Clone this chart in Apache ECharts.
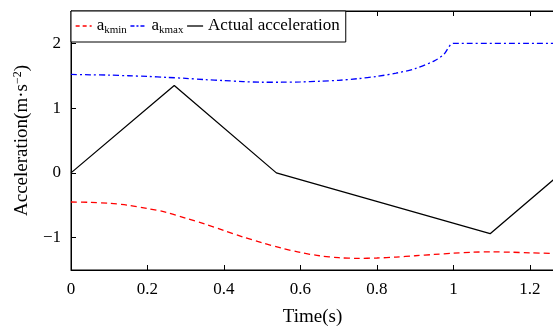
<!DOCTYPE html>
<html>
<head>
<meta charset="utf-8">
<script src="https://cdn.jsdelivr.net/npm/echarts@6/dist/echarts.min.js"></script>
<style>
  html, body { margin: 0; padding: 0; background: #fff; }
  #chart { width: 553px; height: 326px; }
</style>
</head>
<body>
<div id="chart"></div>
<script>
// time axis limits and ticks
const xMax = 1.263
const xTicks = [0, 0.2, 0.4, 0.6, 0.8, 1, 1.2]
const yTicks = [-1, 0, 1, 2]

// a_kmin (red dashed)
const kminT = [0, 0.05, 0.1, 0.15, 0.2, 0.25, 0.3, 0.35, 0.4, 0.45, 0.5, 0.55, 0.6, 0.65, 0.7, 0.75, 0.8, 0.85, 0.9, 0.95, 1.0, 1.05, 1.1, 1.15, 1.2, 1.263]
const kminV = [-0.45, -0.455, -0.47, -0.5, -0.55, -0.61, -0.7, -0.79, -0.89, -0.99, -1.08, -1.16, -1.23, -1.28, -1.31, -1.32, -1.315, -1.3, -1.28, -1.26, -1.24, -1.225, -1.22, -1.225, -1.235, -1.245]

// a_kmax (blue dash-dot)
const kmaxT = [0, 0.05, 0.1, 0.15, 0.2, 0.25, 0.3, 0.35, 0.4, 0.45, 0.5, 0.55, 0.6, 0.65, 0.7, 0.75, 0.8, 0.85, 0.9, 0.95, 0.975, 1.0, 1.263]
const kmaxV = [1.52, 1.515, 1.51, 1.5, 1.49, 1.475, 1.46, 1.44, 1.425, 1.41, 1.4, 1.4, 1.405, 1.415, 1.43, 1.455, 1.49, 1.54, 1.61, 1.73, 1.83, 2.0, 2.0]

// actual acceleration (black solid)
const actT = [0, 0.27, 0.537, 1.096, 1.263]
const actV = [0, 1.35, 0, -0.94, -0.1]

const pairs = (t, v) => t.map((x, i) => [x, v[i]])
const font = 'Liberation Serif'
const minus = v => String(v).replace('-', '\u2212')

const chart = echarts.init(document.getElementById('chart'))

chart.setOption({
  animation: false,
  textStyle: { fontFamily: font, color: '#000' },
  grid: {
    left: 71, right: -1, top: 11, bottom: 56,
    containLabel: false, outerBoundsMode: 'none',
    show: true, borderColor: '#000', borderWidth: 1, backgroundColor: 'transparent'
  },
  legend: {
    left: 71,
    top: 11,
    orient: 'horizontal',
    backgroundColor: '#fff',
    borderColor: '#000',
    borderWidth: 1,
    borderRadius: 0,
    padding: [6, 6, 6, 4],
    itemGap: 3,
    itemWidth: 16,
    itemHeight: 14,
    itemStyle: { opacity: 0 },
    data: [
      { name: 'akmin', lineStyle: { color: '#ff0000', width: 1.3, type: [4, 3] } },
      { name: 'akmax', lineStyle: { color: '#0000ff', width: 1.3, type: [4, 2, 2, 2] } },
      { name: 'Actual acceleration', lineStyle: { color: '#000', width: 1.3 } }
    ],
    formatter: name => {
      if (name === 'akmin') return '{a|a}{s|kmin}'
      if (name === 'akmax') return '{a|a}{s|kmax}'
      return '{a|' + name + '}'
    },
    textStyle: {
      fontFamily: font,
      color: '#000',
      rich: {
        a: { fontFamily: font, fontSize: 17, color: '#000', lineHeight: 20 },
        s: { fontFamily: font, fontSize: 11, color: '#000', lineHeight: 20, verticalAlign: 'bottom', padding: [8, 0, 0, 0] }
      }
    }
  },
  xAxis: [{
    type: 'value',
    min: 0,
    max: xMax,
    name: 'Time(s)',
    nameLocation: 'middle',
    nameGap: 38,
    nameTextStyle: { fontFamily: font, fontSize: 19, color: '#000' },
    axisLine: { show: true, onZero: false, lineStyle: { color: '#000', width: 1 } },
    axisTick: { show: true, inside: true, length: 5, customValues: xTicks, lineStyle: { color: '#000' } },
    axisLabel: { show: true, customValues: xTicks, fontFamily: font, fontSize: 17, color: '#000', margin: 11 },
    splitLine: { show: false }
  }, {
    type: 'value',
    position: 'top',
    min: 0,
    max: xMax,
    axisLine: { show: true, onZero: false, lineStyle: { color: '#000', width: 1 } },
    axisTick: { show: true, inside: true, length: 5, customValues: xTicks, lineStyle: { color: '#000' } },
    axisLabel: { show: false },
    splitLine: { show: false }
  }],
  yAxis: [{
    type: 'value',
    min: -1.5,
    max: 2.5,
    name: '{a|Acceleration(m\u00b7s}{p|\u22122}{a|)}',
    nameLocation: 'middle',
    nameGap: 35,
    nameRotate: 90,
    nameTextStyle: {
      fontFamily: font,
      color: '#000',
      rich: {
        a: { fontFamily: font, fontSize: 19, color: '#000', lineHeight: 22 },
        p: { fontFamily: font, fontSize: 12, color: '#000', lineHeight: 22, verticalAlign: 'top', padding: [0, 0, 8, 0] }
      }
    },
    axisLine: { show: true, onZero: false, lineStyle: { color: '#000', width: 1 } },
    axisTick: { show: true, inside: true, length: 5, customValues: yTicks, lineStyle: { color: '#000' } },
    axisLabel: { show: true, customValues: yTicks, fontFamily: font, fontSize: 17, color: '#000', margin: 10, formatter: minus },
    splitLine: { show: false }
  }],
  series: [{
    name: 'akmin',
    type: 'line',
    data: pairs(kminT, kminV),
    smooth: 0.3,
    symbol: 'none',
    color: '#ff0000',
    lineStyle: { color: '#ff0000', width: 1.3, type: [6, 4] }
  }, {
    name: 'akmax',
    type: 'line',
    data: pairs(kmaxT, kmaxV),
    smooth: 0.3,
    symbol: 'none',
    color: '#0000ff',
    lineStyle: { color: '#0000ff', width: 1.3, type: [6, 3, 2, 3] }
  }, {
    name: 'Actual acceleration',
    type: 'line',
    data: pairs(actT, actV),
    symbol: 'none',
    color: '#000',
    lineStyle: { color: '#000', width: 1.3 }
  }]
})
</script>
</body>
</html>
